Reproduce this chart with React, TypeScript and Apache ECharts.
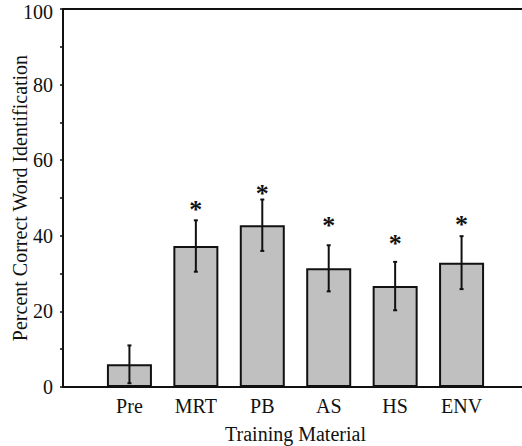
import React, { useEffect, useRef } from "react";
import * as echarts from "echarts";

// Training conditions along the x axis
const categories = ["Pre", "MRT", "PB", "AS", "HS", "ENV"];
// Mean percent correct word identification
const means = [6, 37.3, 42.8, 31.4, 26.7, 32.9];
// Half-length of each error bar
const errors = [5, 6.8, 6.8, 6.1, 6.4, 7.0];
// Height (percent) at which each significance asterisk sits; null = none
const starLevels: (number | null)[] = [null, 48.4, 52.6, 44.0, 39.4, 44.2];
// Y tick values
const yTicks = [0, 20, 40, 60, 80, 100];

const FONT = "Liberation Serif";

export default function App() {
  const ref = useRef<HTMLDivElement>(null);

  useEffect(() => {
    if (!ref.current) return;
    const chart = echarts.init(ref.current, undefined, { renderer: "svg" });

    // pad with empty slots on both ends so bars sit on interior ticks
    const axisCats = ["", ...categories, ""];
    const barData = [null, ...means, null].map((v) => (v === null ? "-" : v));
    const errData = means.map((m, i) => [i + 1, m - errors[i], m + errors[i]]);
    const starData = starLevels
      .map((s, i) => (s === null ? null : [i + 1, s]))
      .filter((d) => d !== null);

    const text = { fontFamily: FONT, fontSize: 20, color: "#111" };
    const yMax = yTicks[yTicks.length - 1];

    chart.setOption({
      animation: false,
      backgroundColor: "#ffffff",
      textStyle: { fontFamily: FONT },
      grid: {
        left: 63,
        top: 9,
        bottom: 59,
        right: -6,
        containLabel: false,
        outerBoundsMode: "none",
        show: true,
        borderColor: "#111",
        borderWidth: 2,
        backgroundColor: "transparent",
      },
      xAxis: {
        type: "category",
        data: axisCats,
        boundaryGap: false,
        name: "Training Material",
        nameLocation: "middle",
        nameGap: 38,
        nameMoveOverlap: false,
        nameTextStyle: { ...text, lineHeight: 18 },
        axisLine: { show: true, lineStyle: { color: "#111", width: 2 } },
        axisTick: { show: false },
        axisLabel: { ...text, margin: 9, interval: 0 },
        splitLine: { show: false },
      },
      yAxis: {
        type: "value",
        min: yTicks[0],
        max: yMax,
        interval: 20,
        name: "Percent Correct Word Identification",
        nameLocation: "middle",
        nameGap: 34,
        nameMoveOverlap: false,
        nameTextStyle: { ...text, lineHeight: 18 },
        axisLine: { show: true, lineStyle: { color: "#111", width: 2 } },
        axisTick: { show: true, length: 3, lineStyle: { color: "#111", width: 1.5 } },
        minorTick: { show: true, splitNumber: 2, length: 3, lineStyle: { color: "#111", width: 1.5 } },
        axisLabel: {
          ...text,
          margin: 10,
          lineHeight: 14,
          // the topmost label sits a little below its tick so it stays on the page
          formatter: (v: number) => (v === yMax ? `{top|${v}}` : `${v}`),
          rich: { top: { ...text, lineHeight: 14, padding: [5, 0, 0, 0] } },
        },
        splitLine: { show: false },
      },
      series: [
        {
          type: "bar",
          data: barData,
          barWidth: 45,
          itemStyle: { color: "#c0c0c0", borderColor: "#111", borderWidth: 2 },
        },
        {
          type: "custom",
          data: errData,
          z: 5,
          renderItem: (params: any, api: any) => {
            const x = api.value(0);
            const lo = api.coord([x, api.value(1)]);
            const hi = api.coord([x, api.value(2)]);
            const cap = 2;
            const style = { stroke: "#111", lineWidth: 2 };
            return {
              type: "group",
              children: [
                { type: "line", shape: { x1: lo[0], y1: lo[1], x2: hi[0], y2: hi[1] }, style },
                { type: "line", shape: { x1: hi[0] - cap, y1: hi[1], x2: hi[0] + cap, y2: hi[1] }, style },
                { type: "line", shape: { x1: lo[0] - cap, y1: lo[1], x2: lo[0] + cap, y2: lo[1] }, style },
              ],
            };
          },
        },
        {
          type: "custom",
          data: starData,
          z: 5,
          renderItem: (params: any, api: any) => {
            const p = api.coord([api.value(0), api.value(1)]);
            // the asterisk glyph rides high in its box, so nudge it down onto the level
            return {
              type: "text",
              x: p[0],
              y: p[1] + 5,
              style: {
                text: "*",
                fontFamily: FONT,
                fontSize: 26,
                fontWeight: "bold",
                fill: "#111",
                align: "center",
                verticalAlign: "middle",
              },
            };
          },
        },
      ],
    });

    return () => chart.dispose();
  }, []);

  return <div ref={ref} style={{ width: 522, height: 446, position: "absolute", left: 0, top: 0 }} />;
}
